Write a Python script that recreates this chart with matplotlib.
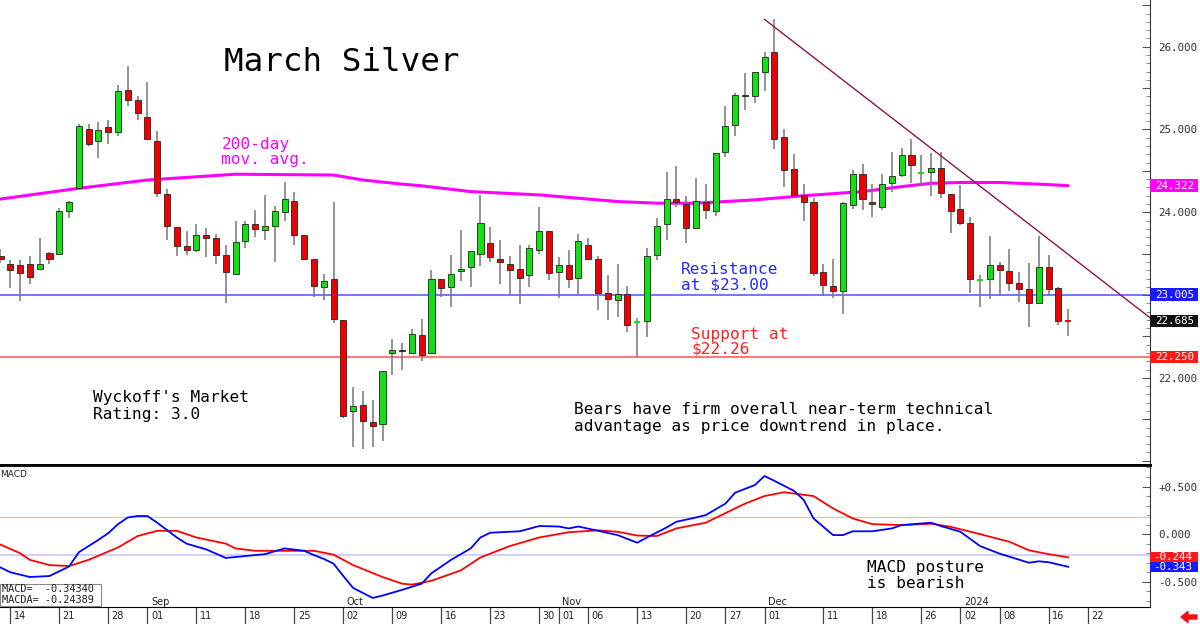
import matplotlib.pyplot as plt
import matplotlib.transforms as mtransforms
from matplotlib.patches import Rectangle, FancyArrow
from matplotlib.ticker import MultipleLocator, FuncFormatter, FixedLocator
import numpy as np
import pandas as pd

plt.rcParams['font.family'] = 'DejaVu Sans Mono'

# trading calendar (COMEX holidays removed)
holidays = ["2023-09-04", "2023-11-23", "2023-12-25", "2024-01-01", "2024-01-15"]
days = pd.bdate_range("2023-08-11", "2024-01-31")
days = days[~days.isin(pd.to_datetime(holidays))]

# daily OHLC, Aug 11 2023 .. Jan 18 2024
opens = [23.47, 23.38, 23.36, 23.37, 23.31, 23.51, 23.50, 24.02, 24.29, 25.00,
         24.86, 25.03, 24.97, 25.48, 25.36, 25.15, 24.86, 24.22, 23.82, 23.59,
         23.54, 23.73, 23.69, 23.48, 23.26, 23.65, 23.86, 23.79, 23.83, 24.00,
         24.14, 23.72, 23.44, 23.10, 23.19, 22.70, 21.60, 21.67, 21.47, 21.44,
         22.30, 22.34, 22.30, 22.52, 22.30, 23.20, 23.10, 23.29, 23.34, 23.50,
         23.63, 23.44, 23.37, 23.32, 23.24, 23.54, 23.77, 23.28, 23.36, 23.21,
         23.61, 23.44, 23.03, 22.94, 23.01, 22.68, 22.69, 23.48, 23.86, 24.16,
         24.10, 23.81, 24.13, 24.01, 24.73, 25.05, 25.42, 25.40, 25.69, 25.94,
         24.91, 24.52, 24.21, 24.12, 23.28, 23.11, 23.05, 24.09, 24.46, 24.12,
         24.07, 24.35, 24.45, 24.69, 24.48, 24.49, 24.54, 24.22, 24.04, 23.87,
         23.18, 23.19, 23.36, 23.29, 23.15, 23.07, 22.90, 23.34, 23.08, 22.69]
highs = [23.56, 23.42, 23.42, 23.47, 23.69, 23.52, 24.05, 24.14, 25.07, 25.07,
         25.09, 25.11, 25.54, 25.77, 25.41, 25.57, 24.98, 24.28, 23.82, 23.78,
         23.86, 23.81, 23.74, 23.60, 23.90, 23.90, 24.03, 24.21, 24.08, 24.36,
         24.24, 23.72, 23.44, 23.26, 24.13, 22.70, 21.89, 21.84, 21.73, 22.08,
         22.47, 22.42, 22.59, 22.71, 23.30, 23.20, 23.48, 23.79, 23.53, 24.21,
         23.82, 23.67, 23.47, 23.60, 23.60, 24.07, 23.77, 23.46, 23.54, 23.74,
         23.69, 23.47, 23.24, 23.38, 23.11, 22.72, 23.57, 23.93, 24.49, 24.56,
         24.20, 24.42, 24.34, 24.72, 25.28, 25.44, 25.68, 25.69, 25.93, 26.33,
         25.01, 24.71, 24.34, 24.17, 23.38, 23.43, 24.12, 24.51, 24.58, 24.34,
         24.46, 24.73, 24.78, 24.88, 24.69, 24.72, 24.73, 24.22, 24.33, 23.94,
         23.24, 23.71, 23.40, 23.56, 23.28, 23.39, 23.71, 23.48, 23.10, 22.83]
lows = [23.39, 23.09, 22.93, 23.14, 23.31, 23.38, 23.50, 23.93, 24.29, 24.80,
        24.65, 24.82, 24.92, 25.28, 25.11, 24.87, 24.19, 23.66, 23.47, 23.48,
        23.52, 23.46, 23.38, 22.90, 23.25, 23.57, 23.70, 23.66, 23.40, 23.89,
        23.60, 23.44, 22.98, 22.94, 22.66, 21.52, 21.17, 21.14, 21.16, 21.24,
        22.04, 22.09, 22.30, 22.21, 22.30, 22.98, 22.86, 23.17, 23.10, 23.35,
        23.40, 23.13, 23.01, 22.89, 23.10, 23.50, 23.18, 22.97, 23.08, 23.00,
        23.42, 22.82, 22.70, 22.73, 22.55, 22.25, 22.49, 23.42, 23.67, 24.07,
        23.63, 23.81, 23.92, 23.95, 24.67, 24.92, 25.23, 25.32, 25.47, 24.77,
        24.30, 24.21, 23.89, 23.23, 22.99, 22.96, 22.77, 24.04, 24.03, 23.94,
        24.03, 24.24, 24.43, 24.35, 24.33, 24.20, 24.17, 23.75, 23.85, 23.03,
        22.86, 22.95, 22.99, 23.05, 22.92, 22.62, 22.90, 23.00, 22.64, 22.51]
closes = [23.43, 23.30, 23.27, 23.22, 23.38, 23.43, 24.02, 24.12, 25.04, 24.82,
          24.99, 24.97, 25.46, 25.36, 25.20, 24.88, 24.23, 23.83, 23.59, 23.55,
          23.73, 23.69, 23.48, 23.28, 23.64, 23.86, 23.80, 23.84, 24.01, 24.16,
          23.72, 23.44, 23.11, 23.17, 22.71, 21.54, 21.66, 21.48, 21.42, 22.08,
          22.34, 22.32, 22.53, 22.28, 23.20, 23.08, 23.26, 23.31, 23.53, 23.87,
          23.46, 23.40, 23.30, 23.21, 23.57, 23.78, 23.27, 23.36, 23.19, 23.65,
          23.43, 23.02, 22.95, 23.01, 22.64, 22.685, 23.47, 23.84, 24.16, 24.12,
          23.81, 24.14, 24.03, 24.72, 25.04, 25.42, 25.40, 25.69, 25.88, 24.88,
          24.51, 24.21, 24.12, 23.27, 23.12, 23.05, 24.11, 24.46, 24.16, 24.10,
          24.34, 24.44, 24.69, 24.57, 24.485, 24.53, 24.23, 24.02, 23.87, 23.19,
          23.185, 23.36, 23.30, 23.15, 23.07, 22.90, 23.34, 23.07, 22.69, 22.685]

# 200-day moving average, read at trading-day numbers
ma_day = [0, 8, 15, 24, 34, 37, 41, 43, 48, 55, 59, 63, 67, 71, 77, 82, 88, 92,
          95, 98, 102, 106, 109]
ma_val = [24.16, 24.29, 24.39, 24.46, 24.45, 24.39, 24.34, 24.32, 24.25, 24.21,
          24.17, 24.13, 24.11, 24.11, 24.15, 24.20, 24.25, 24.31, 24.35, 24.36,
          24.36, 24.34, 24.322]

# MACD (blue) and its average (red)
macd_day = [0, 1, 3, 5, 7, 8, 10, 11, 12, 13, 14, 15, 16, 18, 19, 21, 23, 25, 27,
            29, 31, 32, 33, 34, 35, 36, 38, 39, 41, 43, 44, 46, 48, 49, 50, 53,
            55, 57, 58, 59, 61, 63, 65, 66, 68, 69, 71, 72, 74, 75, 77, 78, 79,
            81, 82, 83, 85, 86, 87, 89, 91, 92, 95, 96, 98, 100, 102, 105, 106,
            107, 109]
macd_val = [-0.35, -0.40, -0.45, -0.44, -0.34, -0.19, -0.06, 0.01, 0.105, 0.175,
            0.19, 0.19, 0.12, -0.035, -0.10, -0.16, -0.25, -0.23, -0.21, -0.15,
            -0.175, -0.22, -0.26, -0.31, -0.44, -0.565, -0.67, -0.645, -0.585,
            -0.52, -0.41, -0.27, -0.15, -0.035, 0.015, 0.03, 0.085, 0.08, 0.06,
            0.08, 0.035, -0.01, -0.09, -0.035, 0.07, 0.13, 0.175, 0.20, 0.32,
            0.435, 0.515, 0.61, 0.56, 0.455, 0.36, 0.165, -0.01, -0.01, 0.03,
            0.03, 0.06, 0.095, 0.12, 0.085, 0.025, -0.125, -0.205, -0.30,
            -0.285, -0.295, -0.343]
sig_day = [0, 2, 3, 5, 7, 9, 12, 14, 16, 18, 20, 23, 24, 26, 29, 32, 34, 36, 39,
           41, 42, 44, 47, 49, 52, 55, 58, 61, 63, 65, 67, 69, 72, 74, 76, 78,
           80, 83, 85, 87, 89, 92, 95, 97, 100, 103, 105, 107, 109]
sig_val = [-0.11, -0.20, -0.27, -0.325, -0.335, -0.27, -0.14, -0.02, 0.035,
           0.035, -0.035, -0.10, -0.15, -0.175, -0.175, -0.175, -0.215, -0.325,
           -0.45, -0.52, -0.53, -0.49, -0.38, -0.245, -0.125, -0.035, 0.02, 0.04,
           0.025, -0.015, -0.02, 0.06, 0.12, 0.22, 0.32, 0.40, 0.44, 0.40, 0.27,
           0.165, 0.105, 0.095, 0.11, 0.077, 0.0, -0.08, -0.17, -0.21, -0.244]

resistance = 23.005
support = 22.25
last_price = 22.685
ma_last = 24.322
macd_hi, macd_lo = 0.18, -0.22
trend_dates = ["2023-12-01", "2024-01-19"]
trend_vals = [26.33, 23.40]

tick_dates = ["2023-08-14", "2023-08-21", "2023-08-28", "2023-09-01", "2023-09-11",
              "2023-09-18", "2023-09-25", "2023-10-02", "2023-10-09", "2023-10-16",
              "2023-10-23", "2023-10-30", "2023-11-01", "2023-11-06", "2023-11-13",
              "2023-11-20", "2023-11-27", "2023-12-01", "2023-12-11", "2023-12-18",
              "2023-12-26", "2024-01-02", "2024-01-08", "2024-01-16", "2024-01-22"]
month_dates = ["2023-09-01", "2023-10-02", "2023-11-01", "2023-12-01", "2024-01-02"]
month_labels = ["Sep", "Oct", "Nov", "Dec", "2024"]

GREEN = "#12e012"
RED = "#f00000"

fig = plt.figure(figsize=(12, 6.24), dpi=100)
ax = fig.add_axes([0, 159 / 624, 1150 / 1200, 465 / 624])
ax2 = fig.add_axes([0, 17 / 624, 1150 / 1200, 142 / 624], sharex=ax)

x = np.arange(len(opens))
o = np.array(opens); h = np.array(highs); l = np.array(lows); c = np.array(closes)
up = c >= o
col = np.where(up, GREEN, RED)

# guide lines
ax.axhline(resistance, color="#6a6aff", lw=1.3, zorder=1)
ax.axhline(support, color="#ff7a7a", lw=1.5, zorder=1)

# moving average
ax.plot(ma_day, ma_val, color="#ff00ff", lw=2.2, zorder=2, solid_capstyle="round",
        solid_joinstyle="round")

# candles
ax.vlines(x, l, h, color="#777777", lw=1.1, zorder=3)
flat = np.abs(c - o) < 0.012
body_b = np.minimum(o, c)
body_h = np.abs(c - o)
ax.bar(x[~flat], body_h[~flat], bottom=body_b[~flat], width=0.62,
       color=col[~flat], edgecolor="#222222", linewidth=0.6, zorder=4)
ax.hlines(o[flat], x[flat] - 0.32, x[flat] + 0.32, color=col[flat], lw=1.4, zorder=4)

# downtrend line extended to the axis edge
tx = days.get_indexer(pd.to_datetime(trend_dates))
slope = (trend_vals[1] - trend_vals[0]) / (tx[1] - tx[0])
x_end = 117.35
ax.plot([tx[0], x_end], [trend_vals[0], trend_vals[0] + slope * (x_end - tx[0])],
        color="#8a1550", lw=1.0, zorder=5, clip_on=False)

ax.set_xlim(-0.05, 117.35)
ax.set_ylim(20.948, 26.564)

# right price axis
ax.yaxis.tick_right()
ax.yaxis.set_major_locator(MultipleLocator(0.5))
ax.yaxis.set_minor_locator(MultipleLocator(0.1))
ax.yaxis.set_major_formatter(FuncFormatter(
    lambda v, p: f"{v:.3f}" if round(v, 3) in (22.0, 24.0, 25.0, 26.0) else ""))
ax.tick_params(axis="y", which="major", direction="in", length=6, width=0.8,
               color="#555555", labelsize=7.8, labelcolor="#333333", pad=6)
ax.tick_params(axis="y", which="minor", direction="in", length=3, width=0.6,
               color="#777777")
ax.tick_params(axis="x", bottom=False, labelbottom=False)
for s in ["left", "top"]:
    ax.spines[s].set_visible(False)
ax.spines["right"].set_color("#333333")
ax.spines["bottom"].set_linewidth(2)

blend = mtransforms.blended_transform_factory(ax.transAxes, ax.transData)
for val, fc in [(ma_last, "#ff00ff"), (resistance, "#1a1aff"),
                (last_price, "#111111"), (support, "#ff1a1a")]:
    ax.add_patch(Rectangle((1.0, val - 0.075), 48 / 1150, 0.15, transform=blend,
                           facecolor=fc, edgecolor="none", clip_on=False, zorder=6))
    ax.text(1.0 + 5 / 1150, val, f"{val:.3f}", transform=blend, color="white",
            fontsize=7.8, va="center", ha="left", zorder=7, clip_on=False)

# annotations
ax.text(22.8, 25.707, "March Silver", fontsize=23.4, color="black")
ax.text(22.55, 24.768, "200-day", fontsize=11.6, color="#ff00ff")
ax.text(22.55, 24.58, "mov. avg.", fontsize=11.6, color="#ff00ff")
ax.text(69.5, 23.255, "Resistance", fontsize=11.6, color="#2828ff")
ax.text(69.5, 23.062, "at $23.00", fontsize=11.6, color="#2828ff")
ax.text(70.5, 22.473, "Support at", fontsize=11.6, color="#ff2020")
ax.text(70.5, 22.289, "$22.26", fontsize=11.6, color="#ff2020")
ax.text(9.47, 21.705, "Wyckoff's Market", fontsize=11.6, color="black")
ax.text(9.47, 21.50, "Rating: 3.0", fontsize=11.6, color="black")
ax.text(58.5, 21.56, "Bears have firm overall near-term technical",
        fontsize=11.6, color="black")
ax.text(58.5, 21.362, "advantage as price downtrend in place.",
        fontsize=11.6, color="black")

# MACD panel
ax2.axhline(macd_hi, color="#ffb4b4", lw=0.9, zorder=1)
ax2.axhline(macd_lo, color="#c4c4ff", lw=1.1, zorder=1)
ax2.plot(sig_day, sig_val, color="#ff0000", lw=1.3, zorder=3)
ax2.plot(macd_day, macd_val, color="#0000ff", lw=1.3, zorder=4)
ax2.set_ylim(-0.765, 0.726)
ax2.yaxis.tick_right()
ax2.yaxis.set_major_locator(FixedLocator([-0.5, 0.0, 0.5]))
ax2.yaxis.set_minor_locator(MultipleLocator(0.1))
ax2.yaxis.set_major_formatter(FuncFormatter(
    lambda v, p: "+0.500" if v > 0.1 else ("0.000" if abs(v) < 0.1 else "-0.500")))
ax2.tick_params(axis="y", which="major", direction="in", length=6, width=0.8,
                color="#555555", labelsize=7.8, labelcolor="#333333", pad=6)
ax2.tick_params(axis="y", which="minor", direction="in", length=3, width=0.6,
                color="#777777")
ax2.spines["left"].set_visible(False)
ax2.spines["top"].set_linewidth(2)
ax2.spines["right"].set_color("#333333")

blend2 = mtransforms.blended_transform_factory(ax2.transAxes, ax2.transData)
for val, fc in [(sig_val[-1], "#ff1a1a"), (macd_val[-1], "#1a1aff")]:
    ax2.add_patch(Rectangle((1.0, val - 0.055), 48 / 1150, 0.11, transform=blend2,
                            facecolor=fc, edgecolor="none", clip_on=False, zorder=6))
    ax2.text(1.0 + 3 / 1150, val, f"{val:.3f}", transform=blend2, color="white",
             fontsize=7.8, va="center", ha="left", zorder=7, clip_on=False)

ax2.text(88.5, -0.397, "MACD posture", fontsize=11.6, color="black")
ax2.text(88.5, -0.561, "is bearish", fontsize=11.6, color="black")
ax2.text(0.0, 0.918, "MACD", transform=ax2.transAxes, fontsize=6.5,
         family="DejaVu Sans", color="#222222")
ax2.add_patch(Rectangle((0.0, 0.005), 0.088, 0.157, transform=ax2.transAxes,
                        facecolor="white", edgecolor="#888888", lw=0.8, zorder=6))
ax2.text(1.5 / 1150, 0.108, f"MACD=  {macd_val[-1] - 0.0004:.5f}",
         transform=ax2.transAxes, fontsize=7.4, color="#222222", zorder=7)
ax2.text(1.5 / 1150, 0.030, f"MACDA= {sig_val[-1] + 0.00011:.5f}",
         transform=ax2.transAxes, fontsize=7.4, color="#222222", zorder=7)

# date axis
tpos = days.get_indexer(pd.to_datetime(tick_dates))
ax2.set_xticks(tpos)
ax2.tick_params(axis="x", direction="out", length=12, width=0.9, color="#444444",
                labelbottom=False)
for p, d in zip(tpos, pd.to_datetime(tick_dates)):
    ax2.annotate(d.strftime("%d"), xy=(p, 0), xycoords=("data", "axes fraction"),
                 xytext=(2.5, -3.2), textcoords="offset points", ha="left", va="top",
                 fontsize=7, family="DejaVu Sans", color="#222222",
                 annotation_clip=False)
mpos = days.get_indexer(pd.to_datetime(month_dates))
for p, m in zip(mpos, month_labels):
    ax2.annotate(m, xy=(p, 0), xycoords=("data", "axes fraction"),
                 xytext=(2.5, 1.2), textcoords="offset points", ha="left",
                 va="baseline", fontsize=7, family="DejaVu Sans", color="#222222")

fig.patches.append(FancyArrow(1197 / 1200, 7 / 624, -9 / 1200, 0, width=4 / 624,
                              head_width=11 / 624, head_length=7 / 1200,
                              length_includes_head=False, transform=fig.transFigure,
                              color="#ee1111"))

fig.savefig("out.png", dpi=100)
